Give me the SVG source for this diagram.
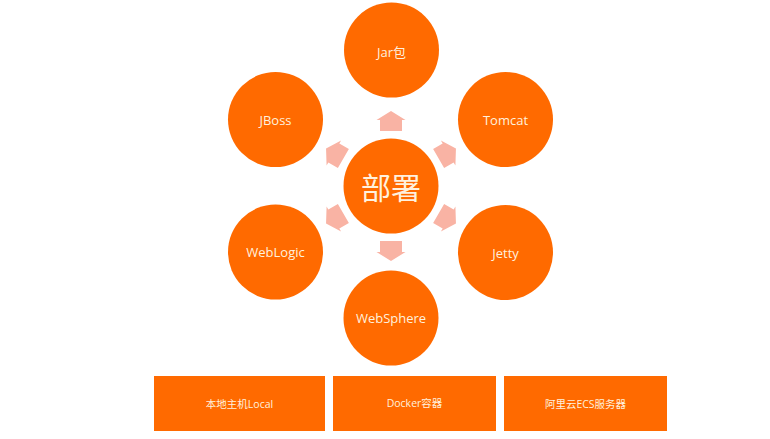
<svg xmlns="http://www.w3.org/2000/svg" width="770" height="439" viewBox="0 0 770 439">
<defs>
<style>
.c{fill:#FF6A00}
.t{fill:#FFF1DE;font-family:"Open Sans","Noto Sans CJK SC",sans-serif;font-size:13px;text-anchor:middle;dominant-baseline:central}
.b{fill:#FF6A00}
.bt{fill:#FFF1DE;font-family:"Open Sans","Noto Sans CJK SC",sans-serif;font-size:10.5px;text-anchor:middle;dominant-baseline:central}
.a{fill:#F9B3A4}
</style>
<path id="arr" d="M0,-10 L14.5,-1 L11,-1 L11,10 L-11,10 L-11,-1 L-14.5,-1 Z"/>
</defs>
<rect width="770" height="439" fill="#FFFFFF"/>
<g id="connectors">
<use href="#arr" class="a" transform="translate(391,186) rotate(0) translate(0,-65)"/>
<use href="#arr" class="a" transform="translate(391,186) rotate(60) translate(0,-65)"/>
<use href="#arr" class="a" transform="translate(391,186) rotate(120) translate(0,-65)"/>
<use href="#arr" class="a" transform="translate(391,186) rotate(180) translate(0,-65)"/>
<use href="#arr" class="a" transform="translate(391,186) rotate(240) translate(0,-65)"/>
<use href="#arr" class="a" transform="translate(391,186) rotate(300) translate(0,-65)"/>
</g>
<g id="center"><circle class="c" cx="391" cy="186" r="47.5"/><text x="391" y="186" style="fill:#FFF1DE;font-family:'Noto Sans CJK SC',sans-serif;font-size:30px;text-anchor:middle;dominant-baseline:central">部署</text></g>
<g id="jar"><circle class="c" cx="391.5" cy="50" r="47.5"/><text class="t" x="391.5" y="52">Jar包</text></g>
<g id="jboss"><circle class="c" cx="275.5" cy="119.5" r="47.5"/><text class="t" x="275.5" y="119.5">JBoss</text></g>
<g id="tomcat"><circle class="c" cx="505.5" cy="119.5" r="47.5"/><text class="t" x="505.5" y="119.5">Tomcat</text></g>
<g id="weblogic"><circle class="c" cx="275.5" cy="252" r="47.5"/><text class="t" x="275.5" y="252">WebLogic</text></g>
<g id="jetty"><circle class="c" cx="505.5" cy="252.5" r="47.5"/><text class="t" x="505.5" y="252.5">Jetty</text></g>
<g id="websphere"><circle class="c" cx="391" cy="318" r="47.5"/><text class="t" x="391" y="318">WebSphere</text></g>
<g id="local"><rect class="b" x="154" y="376" width="171" height="55"/><text class="bt" x="239.5" y="404">本地主机Local</text></g>
<g id="docker"><rect class="b" x="333" y="376" width="163" height="55"/><text class="bt" x="414.5" y="403">Docker容器</text></g>
<g id="ecs"><rect class="b" x="504" y="376" width="163" height="55"/><text class="bt" x="585.5" y="404">阿里云ECS服务器</text></g>
</svg>
